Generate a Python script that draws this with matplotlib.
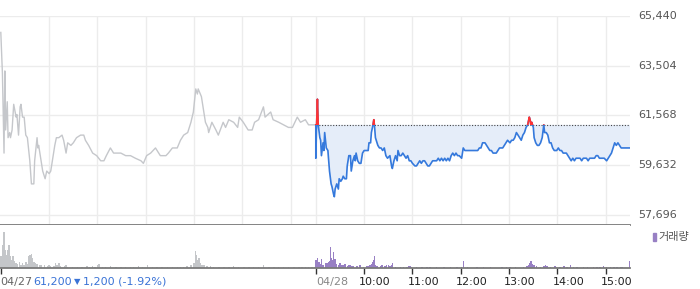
import numpy as np
import matplotlib.pyplot as plt
from matplotlib.patches import Rectangle

# =========================
# Data (minutes from 09:00, price in KRW)
# =========================
prev_min = [0, 2, 4, 5, 6, 8, 9, 11, 12, 14, 16, 19, 20, 22, 24, 25, 27, 29, 31, 33,
            36, 38, 41, 42, 45, 46, 47, 50, 52, 55, 57, 60, 62, 64, 67, 69, 72, 76, 78, 81,
            83, 87, 90, 94, 99, 103, 105, 109, 114, 119, 124, 128, 131, 136, 140, 145, 149, 155, 161, 167,
            174, 177, 181, 186, 192, 198, 205, 208, 213, 219, 223, 227, 232, 236, 239, 242, 244, 245, 249, 252,
            254, 257, 258, 262, 267, 270, 276, 279, 283, 289, 294, 296, 301, 307, 312, 315, 320, 326, 328, 335,
            338, 345, 351, 357, 362, 368, 372, 378, 382, 390]
prev_price = [64800, 63200, 60100, 63300, 61000, 62100, 60700, 60900, 60700, 61000, 62000, 61500, 61600, 60800, 61900, 62000, 61500, 61500, 60800, 60700,
              59800, 58900, 58900, 59800, 60700, 60300, 60400, 59800, 59400, 59100, 59400, 59300, 59400, 59800, 60400, 60700, 60700, 60800, 60600, 60100,
              60500, 60400, 60500, 60700, 60800, 60800, 60600, 60400, 60100, 60000, 59800, 59800, 60000, 60300, 60100, 60100, 60100, 60000, 60000, 59900,
              59800, 59700, 60000, 60100, 60300, 60000, 60000, 60100, 60300, 60300, 60600, 60800, 60900, 61300, 61700, 62600, 62400, 62600, 62300, 61700,
              61300, 61100, 60900, 61300, 61000, 60800, 61300, 61100, 61400, 61300, 61100, 61500, 61300, 61000, 61000, 61300, 61400, 61900, 61500, 61700,
              61400, 61300, 61200, 61100, 61100, 61500, 61300, 61400, 61200, 61200]

today_min = [0, 0, 1, 2, 3, 5, 6, 7, 9, 10, 11, 13, 15, 17, 19, 20, 22, 23, 24, 26,
             28, 29, 31, 33, 34, 36, 38, 39, 41, 43, 44, 46, 48, 49, 50, 52, 54, 56, 58, 60,
             63, 65, 66, 68, 69, 71, 72, 73, 74, 76, 77, 79, 81, 83, 85, 87, 89, 92, 94, 95,
             97, 99, 101, 102, 104, 106, 108, 110, 112, 114, 116, 118, 120, 123, 125, 127, 129, 131, 133, 135,
             137, 139, 141, 143, 145, 147, 150, 152, 154, 156, 158, 160, 162, 164, 166, 168, 170, 172, 174, 176,
             178, 181, 183, 185, 187, 191, 195, 199, 201, 203, 205, 207, 210, 212, 214, 216, 218, 220, 224, 226,
             228, 230, 232, 236, 238, 241, 243, 245, 247, 249, 251, 253, 255, 257, 259, 261, 263, 265, 266, 267,
             268, 269, 270, 271, 273, 275, 277, 279, 281, 283, 284, 286, 288, 290, 292, 294, 296, 299, 301, 303,
             305, 307, 309, 311, 313, 315, 317, 319, 321, 323, 325, 328, 330, 332, 334, 336, 338, 340, 342, 344,
             346, 348, 350, 352, 354, 356, 358, 361, 363, 365, 367, 369, 371, 373, 375, 377, 379, 381, 386, 390]
today_price = [61200, 59900, 61200, 62200, 61200, 60700, 60600, 60000, 60500, 60200, 60900, 60300, 60200, 59400, 58900, 58800, 58500, 58400, 58700, 58900,
               58700, 59100, 59000, 59100, 59200, 59100, 59100, 59600, 60000, 60000, 59400, 59800, 60000, 59800, 60100, 59800, 59700, 59700, 60100, 60200,
               60200, 60200, 60500, 60500, 60900, 61200, 61400, 61100, 60700, 60500, 60400, 60300, 60300, 60200, 60300, 60000, 59900, 60000, 59600, 59500,
               59800, 60000, 59800, 60200, 60000, 60000, 60100, 60000, 59900, 60000, 59800, 59800, 59700, 59600, 59600, 59700, 59800, 59700, 59800, 59800,
               59700, 59600, 59600, 59700, 59800, 59800, 59800, 59900, 59800, 59900, 59800, 59900, 59800, 59900, 59800, 60000, 60100, 60000, 60100, 60000,
               60000, 59900, 60300, 60200, 60200, 60200, 60200, 60200, 60200, 60300, 60300, 60500, 60500, 60400, 60300, 60200, 60200, 60100, 60100, 60200,
               60300, 60300, 60300, 60500, 60600, 60500, 60600, 60600, 60700, 60900, 60800, 60700, 60600, 60800, 60900, 61100, 61200, 61500, 61400, 61200,
               61300, 61200, 61100, 60700, 60500, 60400, 60400, 60500, 60700, 61200, 60900, 60900, 60800, 60500, 60500, 60300, 60200, 60200, 60300, 60200,
               60200, 60100, 60100, 60100, 60000, 59900, 59800, 59900, 59800, 59900, 59900, 59900, 59800, 59900, 59900, 59900, 59800, 59900, 59900, 59900,
               59900, 60000, 60000, 59900, 59900, 59900, 59900, 59800, 59900, 60000, 60100, 60300, 60500, 60400, 60500, 60400, 60300, 60300, 60300, 60300]

# volume (thousand shares)
prev_vol_min = [0, 1, 3, 4, 5, 7, 8, 10, 12, 14, 15, 17, 19, 21, 23, 25, 27, 29, 31, 33,
                35, 36, 38, 39, 41, 43, 45, 48, 50, 54, 58, 60, 62, 66, 68, 70, 72, 74, 79, 81,
                83, 89, 95, 101, 107, 110, 114, 117, 120, 122, 126, 130, 136, 143, 149, 155, 161, 165, 171, 176,
                182, 188, 194, 200, 207, 213, 219, 223, 227, 231, 236, 240, 242, 243, 245, 246, 248, 250, 252, 256,
                260, 264, 271, 277, 283, 289, 295, 302, 308, 314, 320, 326, 333, 339, 345, 351, 357, 364, 370, 374,
                378, 382, 386, 390]
prev_vol = [35, 30, 70, 108, 55, 40, 55, 70, 35, 25, 35, 20, 15, 12, 18, 10, 15, 10, 18, 12,
            35, 40, 42, 30, 18, 15, 12, 10, 8, 8, 5, 10, 6, 5, 15, 8, 15, 5, 6, 10,
            4, 3, 3, 3, 6, 3, 6, 4, 8, 12, 3, 3, 5, 3, 4, 3, 3, 3, 6, 3,
            8, 3, 3, 3, 3, 3, 4, 3, 4, 5, 8, 15, 52, 40, 25, 30, 15, 10, 8, 6,
            5, 4, 3, 4, 3, 5, 3, 3, 4, 3, 4, 8, 3, 4, 3, 4, 3, 4, 3, 4,
            3, 4, 3, 4]

today_vol_min = [0, 1, 2, 4, 5, 7, 9, 12, 14, 16, 17, 18, 19, 21, 22, 23, 24, 26, 28, 30,
                 32, 34, 36, 39, 41, 43, 45, 47, 51, 55, 59, 63, 65, 67, 70, 71, 72, 73, 74, 76,
                 80, 82, 86, 88, 90, 92, 94, 95, 99, 105, 109, 113, 115, 117, 119, 125, 132, 138, 142, 150,
                 159, 167, 175, 181, 183, 188, 200, 208, 217, 231, 237, 241, 248, 258, 262, 264, 266, 267, 269, 271,
                 274, 279, 283, 285, 287, 291, 297, 299, 303, 308, 312, 316, 320, 324, 332, 337, 345, 349, 353, 357,
                 361, 366, 370, 374, 378, 380, 390]
today_vol = [25, 22, 30, 18, 12, 27, 10, 15, 14, 18, 20, 62, 30, 25, 48, 25, 28, 12, 10, 14,
             8, 10, 12, 6, 8, 10, 6, 5, 5, 8, 4, 5, 5, 8, 12, 18, 23, 35, 10, 6,
             5, 8, 5, 8, 10, 5, 8, 14, 4, 4, 3, 3, 5, 6, 4, 3, 3, 3, 3, 3,
             3, 4, 3, 3, 22, 3, 3, 3, 3, 3, 3, 4, 3, 3, 6, 8, 14, 22, 12, 8,
             5, 4, 5, 8, 5, 3, 5, 4, 3, 5, 4, 8, 4, 3, 3, 4, 3, 3, 3, 6,
             4, 4, 3, 4, 4, 3, 22]

prev_close = 61200
y_ticks = [57696, 59632, 61568, 63504, 65440]
hour_labels = ["10:00", "11:00", "12:00", "13:00", "14:00", "15:00"]
info_date, info_price, info_change, info_pct = "04/27", "61,200", "1,200", "(-1.92%)"
today_label = "04/28"

# =========================
# Style
# =========================
SESSION = 391  # minutes 09:00..15:30 per day on the axis
GRID = "#ececec"
AXIS = "#7a7a7a"
GRAY_LINE = "#c5c7cb"
BLUE = "#3579dc"
FILL = "#e5edf9"
RED = "#ff3333"
VOL_GRAY = "#c4c6c9"
VOL_PURPLE = "#9880c4"
TXT = "#555555"
BLUE_TXT = "#3a73d6"

plt.rcParams["font.family"] = ["DejaVu Sans", "Noto Sans CJK KR"]

W, H = 700, 289
fig = plt.figure(figsize=(W / 100, H / 100), dpi=100)

def px_box(x0, y0, x1, y1):
    return [x0 / W, 1 - y1 / H, (x1 - x0) / W, (y1 - y0) / H]

ax = fig.add_axes(px_box(0, 16, 630, 225))
axv = fig.add_axes(px_box(0, 225, 630, 268), sharex=ax)

px_per_price = 49.7 / 1936
ymax = 65440
ymin = ymax - (225 - 16) / px_per_price
ax.set_ylim(ymin, ymax)
ax.set_xlim(-1, 2 * SESSION - 1)

for s in ax.spines.values():
    s.set_visible(False)
ax.spines["bottom"].set_visible(True)
ax.spines["bottom"].set_color(AXIS)
ax.spines["bottom"].set_linewidth(1.3)
ax.tick_params(left=False, bottom=False, labelleft=False, labelbottom=False)

# grid
for v in y_ticks:
    ax.axhline(v, color=GRID, lw=1.0, zorder=0)
    fig.text(638 / W, 1 - (16 + (ymax - v) * px_per_price) / H, f"{v:,}",
             fontsize=8, color=TXT, va="center", ha="left")
for h in range(1, 7):
    ax.axvline(h * 60, color=GRID, lw=1.0, zorder=0)
for h in range(0, 7):
    ax.axvline(SESSION + h * 60, color=GRID, lw=1.0, zorder=0)

# prev day line
ax.plot(prev_min, prev_price, color=GRAY_LINE, lw=1.0, zorder=2)

# today
tx = np.array(today_min) + SESSION
tp = np.array(today_price)
ax.fill_between(tx, tp, prev_close, where=tp <= prev_close, interpolate=True,
                color=FILL, lw=0, zorder=1)
ax.fill_between(tx, tp, prev_close, where=tp >= prev_close, interpolate=True,
                color="#fde6e6", lw=0, zorder=1)
ax.hlines(prev_close, SESSION, 2 * SESSION - 1, colors="#444444", lw=0.8,
          linestyles=(0, (1, 1.5)), zorder=3)
ax.plot(tx, tp, color=BLUE, lw=1.2, zorder=4)
red_line, = ax.plot(tx, tp, color=RED, lw=1.2, zorder=5)
red_line.set_clip_path(Rectangle((SESSION - 5, prev_close), SESSION + 10, ymax - prev_close,
                                 transform=ax.transData))

# volume panel
axv.bar(prev_vol_min, prev_vol, width=1.8, color=VOL_GRAY, lw=0)
axv.bar(np.array(today_vol_min) + SESSION, today_vol, width=1.8, color=VOL_PURPLE, lw=0)
axv.set_ylim(0, 129)
for s in axv.spines.values():
    s.set_visible(False)
axv.spines["bottom"].set_visible(True)
axv.spines["bottom"].set_color(AXIS)
axv.spines["bottom"].set_linewidth(1.3)
tick_pos = [0, SESSION] + [SESSION + h * 60 for h in range(1, 7)]
axv.set_xticks(tick_pos)
axv.tick_params(axis="x", direction="out", length=4, width=1, color="#333333", labelbottom=False)
axv.tick_params(left=False, labelleft=False)

# legend
fig.patches.append(Rectangle((653 / W, 1 - 241 / H), 3 / W, 8 / H, transform=fig.transFigure,
                             color=VOL_PURPLE, figure=fig))
fig.text(658 / W, 1 - 237 / H, "거래량", fontsize=8, color=TXT, va="center", ha="left",
         family=["Noto Sans CJK KR", "DejaVu Sans"])

# bottom labels
yb = 1 - 282 / H
fig.text(0, yb, info_date, fontsize=8, color="#666666", va="center", ha="left")
fig.text(33 / W, yb, info_price, fontsize=8, color=BLUE_TXT, va="center", ha="left")
fig.text(74 / W, yb, "▼", fontsize=6, color=BLUE_TXT, va="center", ha="left")
fig.text(83 / W, yb, f"{info_change} {info_pct}", fontsize=8, color=BLUE_TXT, va="center", ha="left")

x_to_px = lambda m: (m + 1) / (2 * SESSION) * 630
fig.text(x_to_px(SESSION) / W, yb, today_label, fontsize=8, color="#888888", va="center", ha="left")
for i, lab in enumerate(hour_labels):
    fig.text((x_to_px(SESSION + (i + 1) * 60) - 5) / W, yb, lab, fontsize=8, color="#222222",
             va="center", ha="left")

fig.savefig("out.png", dpi=100)
